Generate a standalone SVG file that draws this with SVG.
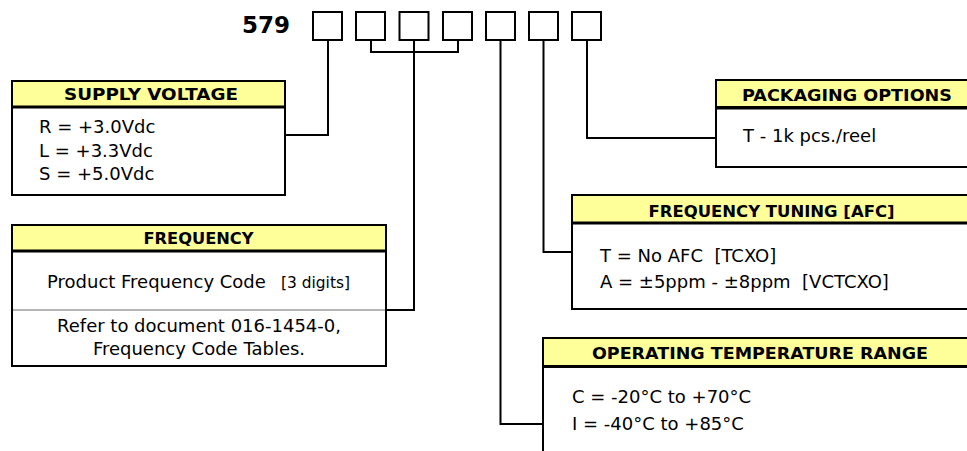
<svg xmlns="http://www.w3.org/2000/svg" width="967" height="451" viewBox="0 0 967 451">
<style>
.box{fill:#fff;stroke:#000;stroke-width:2}
.hdr{fill:#ffff99;stroke:#000;stroke-width:2}
.hline{stroke:#000;stroke-width:3}
.sep{stroke:#b4b4b4;stroke-width:2}
.digit{fill:#fff;stroke:#000;stroke-width:2}
.conn{fill:none;stroke:#000;stroke-width:2}
.h{font-family:"DejaVu Sans","Liberation Sans",sans-serif;font-weight:bold;font-size:16px;fill:#000}
.t{font-family:"DejaVu Sans","Liberation Sans",sans-serif;font-size:18px;fill:#000}
.s{font-family:"DejaVu Sans","Liberation Sans",sans-serif;font-size:15px;fill:#000}
.code{font-family:"DejaVu Sans","Liberation Sans",sans-serif;font-weight:bold;font-size:23px;fill:#000}
</style>
<rect width="967" height="451" fill="#fff"/>
<g id="partnumber">
<text class="code" x="242" y="33">579</text>
<rect class="digit" x="313" y="12" width="29" height="28"/>
<rect class="digit" x="356" y="12" width="29" height="28"/>
<rect class="digit" x="399.5" y="12" width="29" height="28"/>
<rect class="digit" x="443" y="12" width="29" height="28"/>
<rect class="digit" x="486" y="12" width="29" height="28"/>
<rect class="digit" x="529" y="12" width="29" height="28"/>
<rect class="digit" x="572" y="12" width="29" height="28"/>
</g>
<g id="connectors">
<polyline class="conn" points="328,40 328,135 285,135"/>
<polyline class="conn" points="371,40 371,52 458,52 458,40"/>
<polyline class="conn" points="414,40 414,310 386,310"/>
<polyline class="conn" points="500.5,40 500.5,424 543,424"/>
<polyline class="conn" points="543.5,40 543.5,252 572,252"/>
<polyline class="conn" points="587,40 587,138 716,138"/>
</g>
<g id="supply-voltage">
<rect class="box" x="12" y="81" width="273" height="114"/>
<rect class="hdr" x="12" y="81" width="273" height="26"/>
<line class="hline" x1="12" y1="107" x2="285" y2="107"/>
<text class="h" x="64" y="100" textLength="174" lengthAdjust="spacingAndGlyphs">SUPPLY VOLTAGE</text>
<text class="t" x="39" y="133">R = +3.0Vdc</text>
<text class="t" x="39" y="157">L = +3.3Vdc</text>
<text class="t" x="39" y="180">S = +5.0Vdc</text>
</g>
<g id="frequency">
<rect class="box" x="12" y="225" width="374" height="141"/>
<rect class="hdr" x="12" y="225" width="374" height="26"/>
<line class="hline" x1="12" y1="251" x2="386" y2="251"/>
<line class="sep" x1="13" y1="310" x2="385" y2="310"/>
<text class="h" x="143.5" y="244" textLength="110" lengthAdjust="spacingAndGlyphs">FREQUENCY</text>
<text class="t" x="47" y="288">Product Frequency Code</text>
<text class="s" x="281" y="288" textLength="69" lengthAdjust="spacingAndGlyphs">[3 digits]</text>
<text class="t" x="199" y="332" text-anchor="middle">Refer to document 016-1454-0,</text>
<text class="t" x="199" y="355" text-anchor="middle">Frequency Code Tables.</text>
</g>
<g id="packaging-options">
<rect class="box" x="716" y="80" width="260" height="87"/>
<rect class="hdr" x="716" y="80" width="260" height="27"/>
<line class="hline" x1="716" y1="108" x2="976" y2="108"/>
<text class="h" x="742" y="101" textLength="210" lengthAdjust="spacingAndGlyphs">PACKAGING OPTIONS</text>
<text class="t" x="743" y="142">T - 1k pcs./reel</text>
</g>
<g id="frequency-tuning">
<rect class="box" x="572" y="195" width="404" height="114"/>
<rect class="hdr" x="572" y="195" width="404" height="28"/>
<line class="hline" x1="572" y1="223" x2="976" y2="223"/>
<text class="h" x="648.5" y="217" textLength="246" lengthAdjust="spacingAndGlyphs">FREQUENCY TUNING [AFC]</text>
<text class="t" x="600" y="262" xml:space="preserve">T = No AFC  [TCXO]</text>
<text class="t" x="600" y="288" xml:space="preserve">A = ±5ppm - ±8ppm  [VCTCXO]</text>
</g>
<g id="operating-temperature">
<rect class="box" x="543" y="338" width="433" height="130"/>
<rect class="hdr" x="543" y="338" width="433" height="28"/>
<line class="hline" x1="543" y1="366.5" x2="976" y2="366.5"/>
<text class="h" x="592" y="359" textLength="336" lengthAdjust="spacingAndGlyphs">OPERATING TEMPERATURE RANGE</text>
<text class="t" x="572" y="403">C = -20°C to +70°C</text>
<text class="t" x="572" y="430">I = -40°C to +85°C</text>
</g>
</svg>
